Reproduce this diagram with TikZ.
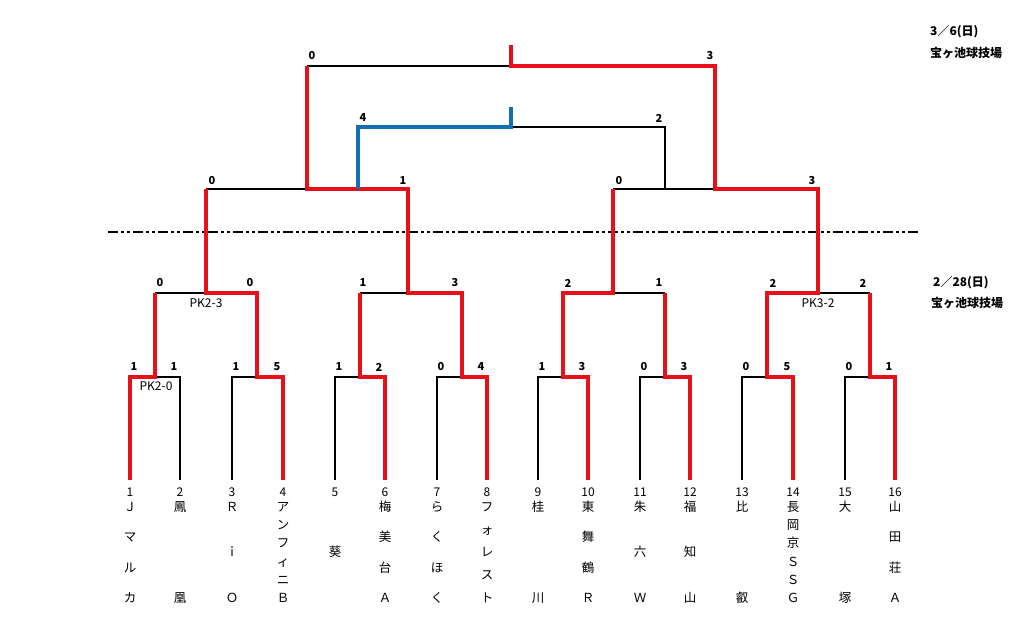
\documentclass[tikz,border=0pt]{standalone}
\usepackage{fontspec}
\setmainfont{Noto Sans CJK JP}
\definecolor{winred}{RGB}{232,16,24}
\definecolor{thirdblue}{RGB}{22,110,178}
\tikzset{
  base/.style={line width=1.1pt, black},
  winline/.style={line width=3.4pt, winred, line join=miter},
  thirdline/.style={line width=3.4pt, thirdblue, line join=miter},
  score/.style={font=\bfseries\fontsize{11}{12}\selectfont, inner sep=0pt},
  num/.style={font=\fontsize{12}{13}\selectfont, inner sep=0pt},
  nm/.style={font=\fontsize{12.5}{13}\selectfont, inner sep=0pt, text height=0.8em, text depth=0.12em},
  pk/.style={font=\fontsize{12}{13}\selectfont, inner sep=0pt},
  venue/.style={font=\bfseries\fontsize{12}{14}\selectfont, anchor=west, inner sep=0pt},
  divider/.style={line width=2.8pt, black, dash pattern=on 10pt off 3pt on 3pt off 3pt on 3pt off 3pt}
}
\newcommand\teamname[4]{%
  \foreach \ch [count=\k] in {#4}{%
    \pgfmathsetmacro\yy{508+(\k-1)*91/(#3-1)}%
    \node[nm] (w#1-\k) at (#2,\yy) {\ch};}}
\begin{document}
\begin{tikzpicture}[x=1pt,y=-1pt]
\useasboundingbox (0,0) rectangle (1024,618);

% leaves
\foreach \i/\x in {1/130,2/180,3/232,4/283,5/335,6/385,7/437,8/487,9/538,10/588,11/640,12/690,13/742,14/793,15/845,16/895}{
  \coordinate (b\i) at (\x,480);
  \coordinate (t\i) at (\x,377);
  \node[num] (n\i) at (\x,492) {\i};
}
% round 1 centres
\foreach \i/\x in {1/155,2/257,3/360,4/462,5/563,6/665,7/767,8/870}{
  \coordinate (c\i) at (\x,377);
  \coordinate (d\i) at (\x,293);
}
% round 2 centres
\foreach \i/\x in {1/206,2/408,3/613,4/818}{
  \coordinate (e\i) at (\x,293);
  \coordinate (f\i) at (\x,189);
}
% semi-final centres
\coordinate (g1) at (307,189); \coordinate (h1) at (307,66);
\coordinate (g2) at (715,189); \coordinate (h2) at (715,66);
% third place
\coordinate (q1) at (358,189); \coordinate (s1) at (358,127);
\coordinate (q2) at (665,189); \coordinate (s2) at (665,127);
\coordinate (u) at (511,127); \coordinate (ut) at (511,107);
% final
\coordinate (k) at (511,66); \coordinate (kt) at (511,45);
% divider
\coordinate (dl) at (108,232); \coordinate (dr) at (918,232);

% black bracket
\foreach \a/\b/\c in {1/2/1,3/4/2,5/6/3,7/8/4,9/10/5,11/12/6,13/14/7,15/16/8}{
  \draw[base] (b\a) -- (t\a) -- (t\b) -- (b\b);
  \draw[base] (c\c) -- (d\c);
}
\draw[base] (d1) -- (d2); \draw[base] (d3) -- (d4);
\draw[base] (d5) -- (d6); \draw[base] (d7) -- (d8);
\foreach \i in {1,2,3,4}{\draw[base] (e\i) -- (f\i);}
\draw[base] (f1) -- (f2); \draw[base] (f3) -- (f4);
\draw[base] (g1) -- (h1); \draw[base] (g2) -- (h2);
\draw[base] (h1) -- (h2); \draw[base] (k) -- (kt);
\draw[base] (q1) -- (s1) -- (s2) -- (q2);
\draw[base] (u) -- (ut);

\draw[divider] (dl) -- (dr);

% winners
\draw[winline] (b1) -- (t1) -- (c1) -- (d1);
\draw[winline] (b4) -- (t4) -- (c2) -- (d2) -- (e1) -- (f1);
\draw[winline] (b6) -- (t6) -- (c3) -- (d3);
\draw[winline] (b8) -- (t8) -- (c4) -- (d4) -- (e2) -- (f2) -- (g1) -- (h1);
\draw[winline] (b10) -- (t10) -- (c5) -- (d5) -- (e3) -- (f3);
\draw[winline] (b12) -- (t12) -- (c6) -- (d6);
\draw[winline] (b14) -- (t14) -- (c7) -- (d7) -- (e4) -- (f4) -- (g2) -- (h2) -- (k) -- (kt);
\draw[winline] (b16) -- (t16) -- (c8) -- (d8);
\draw[thirdline] (q1) -- (s1) -- (u) -- (ut);

% scores round 1
\foreach \i/\x/\s in {1/134/1,2/174/1,3/236/1,4/277/5,5/339/1,6/379/2,7/441/0,8/481/4,9/542/1,10/582/3,11/644/0,12/684/3,13/746/0,14/787/5,15/849/0,16/889/1}{
  \node[score] (sa\i) at (\x,367) {\s};
}
% scores round 2
\foreach \i/\x/\s in {1/160/0,2/250/0,3/363/1,4/455/3,5/568/2,6/659/1,7/773/2,8/863/2}{
  \node[score] (sb\i) at (\x,283) {\s};
}
% semi-finals
\node[score] (sc1) at (212,181) {0};
\node[score] (sc2) at (403,181) {1};
\node[score] (sc3) at (619,181) {0};
\node[score] (sc4) at (812,181) {3};
% third place
\node[score] (sd1) at (363,118) {4};
\node[score] (sd2) at (659,118) {2};
% final
\node[score] (se1) at (312,56) {0};
\node[score] (se2) at (710,56) {3};

% penalty notes
\node[pk] (pk1) at (156,386) {PK2-0};
\node[pk] (pk2) at (206,303) {PK2-3};
\node[pk] (pk3) at (818,303) {PK3-2};

% team names
\teamname{1}{130}{4}{Ｊ,マ,ル,カ}
\teamname{2}{180}{2}{鳳,凰}
\teamname{3}{232}{3}{Ｒ,ｉ,Ｏ}
\teamname{4}{283}{6}{ア,ン,フ,ィ,ニ,Ｂ}
\node[nm] (w5-1) at (335,553.5) {葵};
\teamname{6}{385}{4}{梅,美,台,Ａ}
\teamname{7}{437}{4}{ら,く,ほ,く}
\teamname{8}{487}{5}{フ,ォ,レ,ス,ト}
\teamname{9}{538}{2}{桂,川}
\teamname{10}{588}{4}{東,舞,鶴,Ｒ}
\teamname{11}{640}{3}{朱,六,Ｗ}
\teamname{12}{690}{3}{福,知,山}
\teamname{13}{742}{2}{比,叡}
\teamname{14}{793}{6}{長,岡,京,Ｓ,Ｓ,Ｇ}
\teamname{15}{845}{2}{大,塚}
\teamname{16}{895}{4}{山,田,荘,Ａ}

% venues
\node[venue] (date1) at (930,32) {3／6(日)};
\node[venue] (venue1) at (930,53) {宝ヶ池球技場};
\node[venue] (date2) at (933,283) {2／28(日)};
\node[venue] (venue2) at (931,303) {宝ヶ池球技場};
\end{tikzpicture}
\end{document}
